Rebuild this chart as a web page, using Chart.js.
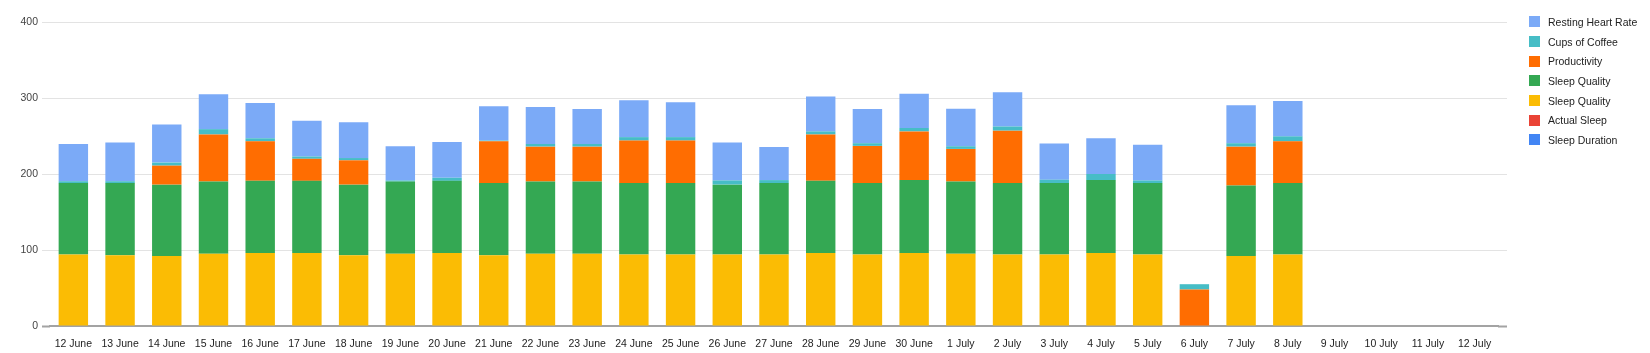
<!DOCTYPE html>
<html>
<head>
<meta charset="utf-8">
<script src="https://cdn.jsdelivr.net/npm/chart.js@4/dist/chart.umd.min.js"></script>
<style>
  html, body { margin: 0; padding: 0; background: #fff; }
  #wrap { position: relative; width: 1650px; height: 353px; }
  #legend { position: absolute; left: 1529px; top: 12px; font: 10.5px "Liberation Sans", Arial, sans-serif; color: #222; }
  .item { height: 19.7px; display: flex; align-items: center; white-space: nowrap; }
  .box { width: 11px; height: 11px; margin-right: 8px; flex: none; }
</style>
</head>
<body>
<div id="wrap">
  <canvas id="chart" width="1650" height="353"></canvas>
  <div id="legend"></div>
</div>
<script>
const days = ['12 June', '13 June', '14 June', '15 June', '16 June', '17 June', '18 June', '19 June',
  '20 June', '21 June', '22 June', '23 June', '24 June', '25 June', '26 June', '27 June', '28 June',
  '29 June', '30 June', '1 July', '2 July', '3 July', '4 July', '5 July', '6 July', '7 July', '8 July',
  '9 July', '10 July', '11 July', '12 July'];

// bottom to top
const sleepDuration = [0, 0, 0, 0, 0, 0, 0, 0, 0, 0, 0, 0, 0, 0, 0, 0, 0, 0, 0, 0, 0, 0, 0, 0, 0, 0, 0, null, null, null, null];
const actualSleep = [0, 0, 0, 0, 0, 0, 0, 0, 0, 0, 0, 0, 0, 0, 0, 0, 0, 0, 0, 0, 0, 0, 0, 0, 0, 0, 0, null, null, null, null];
const sleepQualityA = [94, 93, 92, 95, 96, 96, 93, 95, 96, 93, 95, 95, 94, 94, 94, 94, 96, 94, 96, 95, 94, 94, 96, 94, 0, 92, 94, null, null, null, null];
const sleepQualityB = [94, 95, 94, 95, 95, 95, 93, 95, 95, 95, 95, 95, 94, 94, 92, 94, 95, 94, 96, 95, 94, 94, 96, 94, 0, 93, 94, null, null, null, null];
const productivity = [0, 0, 25, 62, 52, 29, 32, 0, 0, 55, 46, 46, 56, 56, 0, 0, 61, 49, 64, 43, 69, 0, 0, 0, 48, 51, 55, null, null, null, null];
const coffee = [2.5, 2.5, 4, 7, 4, 3, 3, 1.5, 4, 1, 3.5, 3.5, 4.5, 4.5, 5.5, 4, 4, 3.5, 4.5, 3.5, 5.5, 4.5, 8, 3.5, 7, 4.5, 6.5, null, null, null, null];
const restingHR = [49, 51, 50, 46, 46.5, 47, 47, 45, 47, 45, 48.5, 46, 48.5, 46, 50, 43.5, 46, 45, 45, 49.5, 45, 47.5, 47, 47, 0, 50, 46.5, null, null, null, null];

const yTicks = [0, 100, 200, 300, 400];

const series = [
  { label: 'Sleep Duration', data: sleepDuration, color: '#4285f4' },
  { label: 'Actual Sleep', data: actualSleep, color: '#ea4335' },
  { label: 'Sleep Quality', data: sleepQualityA, color: '#fbbc04' },
  { label: 'Sleep Quality', data: sleepQualityB, color: '#34a853' },
  { label: 'Productivity', data: productivity, color: '#ff6d01' },
  { label: 'Cups of Coffee', data: coffee, color: '#46bdc6' },
  { label: 'Resting Heart Rate', data: restingHR, color: '#7baaf7' }
];

const font = { family: '"Liberation Sans", Arial, sans-serif', size: 10.5 };
const gridColor = '#e3e3e3';
const baseColor = '#a3a3a3';
// grid lines run a little past the bars on both sides, drawn as outward tick marks
const lineColor = c => c.tick.value === 0 ? baseColor : gridColor;
const lineWidth = c => c.tick.value === 0 ? 2 : 1;

const chart = new Chart(document.getElementById('chart'), {
  type: 'bar',
  data: {
    labels: days,
    datasets: series.map(s => ({
      label: s.label,
      data: s.data,
      backgroundColor: s.color,
      borderWidth: 0,
      categoryPercentage: 1,
      barPercentage: 0.63
    }))
  },
  options: {
    responsive: false,
    animation: false,
    layout: { padding: { top: 22, right: 143, left: 0, bottom: 0 } },
    plugins: {
      legend: { display: false },
      tooltip: { enabled: false }
    },
    scales: {
      x: {
        stacked: true,
        z: 1,
        grid: { display: false },
        border: { color: baseColor, width: 2 },
        ticks: { color: '#222', font: font, padding: 4, maxRotation: 0, autoSkip: false },
        afterFit: s => { s.height = 27; }
      },
      y: {
        stacked: true,
        min: 0,
        max: 400,
        afterBuildTicks: s => { s.ticks = yTicks.map(v => ({ value: v })); },
        grid: {
          color: c => c.tick.value === 0 ? 'rgba(0,0,0,0)' : gridColor,
          tickColor: lineColor,
          tickWidth: lineWidth,
          tickLength: 8
        },
        border: { display: false },
        ticks: { color: '#444', font: font, padding: 4 },
        afterFit: s => { s.width = 50; }
      },
      yRight: {
        position: 'right',
        stacked: true,
        min: 0,
        max: 400,
        afterBuildTicks: s => { s.ticks = yTicks.map(v => ({ value: v })); },
        grid: {
          drawOnChartArea: false,
          tickColor: lineColor,
          tickWidth: lineWidth,
          tickLength: 9
        },
        border: { display: false },
        ticks: { display: false },
        afterFit: s => { s.width = 9; }
      }
    }
  }
});

// Legend (top series first)
const legend = document.getElementById('legend');
chart.data.datasets.slice().reverse().forEach(ds => {
  const item = document.createElement('div');
  item.className = 'item';
  const box = document.createElement('span');
  box.className = 'box';
  box.style.background = ds.backgroundColor;
  item.appendChild(box);
  item.appendChild(document.createTextNode(ds.label));
  legend.appendChild(item);
});
</script>
</body>
</html>
